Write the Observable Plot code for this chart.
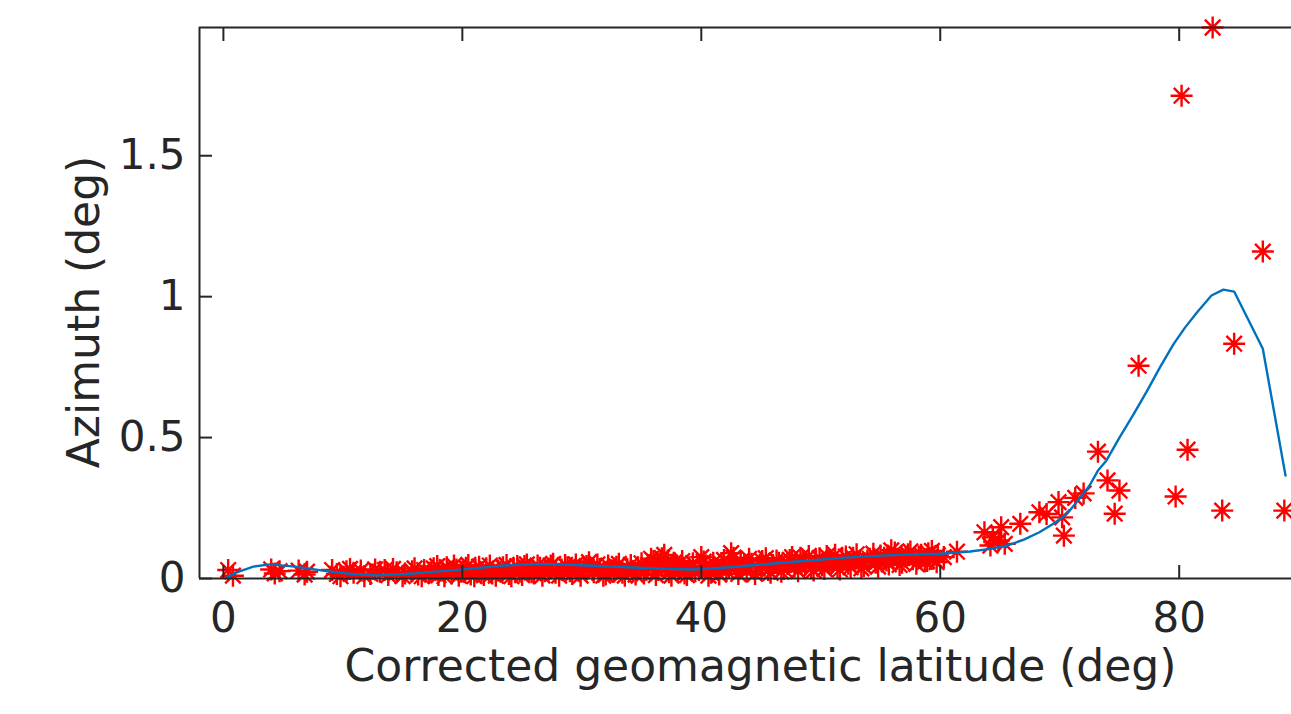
<!DOCTYPE html>
<html><head><meta charset="utf-8">
<script src="https://cdn.jsdelivr.net/npm/d3@7"></script>
<script src="https://cdn.jsdelivr.net/npm/@observablehq/plot@0.6"></script>
<style>html,body{margin:0;padding:0;background:#fff;} svg{display:block}</style>
</head><body><div id="chart"></div>
<script>
// Measured points: corrected geomagnetic latitude (deg) and azimuth (deg)
const latitude = [0.4,0.8,4.0,4.3,4.7,6.3,6.8,7.0,
9.1,9.5,10.3,10.9,11.5,12.3,13.1,13.8,14.5,15.2,15.8,16.3,16.8,17.2,17.6,18.0,18.3,18.7,19.1,19.5,19.9,20.3,20.7,21.1,21.6,22.0,22.5,23.0,23.4,23.9,24.3,24.8,25.2,25.6,26.0,26.5,26.9,27.4,27.8,28.3,28.8,29.2,29.7,30.2,30.6,31.0,31.5,32.0,32.4,32.9,33.4,33.8,34.3,34.7,35.2,35.6,36.0,36.4,36.7,37.0,37.3,37.7,38.1,38.6,39.0,39.5,40.0,40.4,40.8,41.2,41.7,42.1,42.5,42.9,43.3,43.8,44.2,44.7,45.1,45.6,46.0,46.5,46.9,47.4,47.8,48.3,48.7,49.2,49.6,50.1,50.5,50.9,51.4,51.8,52.3,52.7,53.2,53.6,54.1,54.6,55.0,55.5,55.9,56.4,56.8,57.3,57.7,58.2,58.7,59.0,59.4,59.8,
61.4,63.7,64.2,64.4,64.9,65.1,65.4,66.7,68.3,68.9,69.9,70.2,70.35,71.3,72.0,73.2,74.0,74.6,75.0,76.6,79.7,80.2,80.7,82.8,83.6,84.6,87.0,88.8];
const azimuth = [0.030,0.010,0.032,0.018,0.026,0.028,0.014,0.024,
0.030,0.016,0.026,0.020,0.028,0.016,0.024,0.012,0.022,0.018,0.026,0.014,0.030,0.020,0.036,0.012,0.028,0.040,0.018,0.032,0.024,0.038,0.014,0.030,0.022,0.036,0.018,0.028,0.040,0.016,0.034,0.024,0.044,0.030,0.018,0.038,0.026,0.046,0.020,0.032,0.040,0.016,0.028,0.036,0.058,0.022,0.034,0.014,0.030,0.042,0.020,0.034,0.026,0.040,0.018,0.048,0.062,0.030,0.072,0.046,0.022,0.056,0.034,0.018,0.040,0.026,0.076,0.044,0.020,0.034,0.050,0.028,0.090,0.040,0.060,0.024,0.052,0.036,0.062,0.030,0.048,0.056,0.034,0.066,0.042,0.074,0.050,0.036,0.062,0.046,0.080,0.056,0.040,0.068,0.052,0.074,0.060,0.044,0.070,0.056,0.082,0.064,0.100,0.070,0.056,0.086,0.068,0.078,0.060,0.090,0.070,0.082,
0.095,0.164,0.117,0.146,0.135,0.182,0.123,0.194,0.235,0.229,0.271,0.217,0.152,0.286,0.302,0.450,0.348,0.230,0.312,0.755,0.291,1.713,0.457,1.955,0.241,0.833,1.160,0.241];
// More measured points in the dense low-latitude band
const latitudeBand = [9.8,10.6,11.8,12.7,13.5,14.2,15.0,16.0,16.6,
17.4,17.9,18.5,19.3,19.7,20.1,20.5,21.0,21.4,21.8,22.3,22.8,23.2,23.7,24.1,24.6,25.0,25.4,25.8,26.3,26.7,27.2,27.6,28.1,28.6,29.0,29.5,29.9,30.4,30.9,31.3,31.8,32.2,32.7,33.1,33.6,34.1,34.5,35.0,35.4,35.8,36.2,36.6,36.9,37.2,37.5,37.9,38.4,38.8,39.3,39.8,40.2,40.6,41.0,41.5,41.9,42.3,42.7,43.1,43.6,44.0,44.5,44.9,45.4,45.8,46.3,46.7,47.2,47.6,48.1,48.5,49.0,49.4,49.9,50.3,50.7,51.2,51.6,52.1,52.5,53.0,53.4,53.9,54.4,54.8,55.3,55.7,56.2,56.6,57.1,57.5,58.0,58.4,58.9,59.3,59.7,60.3];
const azimuthBand = [0.008,0.034,0.008,0.032,0.030,0.034,0.008,0.036,0.008,
0.022,0.044,0.008,0.046,0.010,0.026,0.048,0.008,0.042,0.012,0.046,0.010,0.024,0.048,0.008,0.044,0.012,0.050,0.022,0.046,0.010,0.034,0.052,0.010,0.048,0.026,0.050,0.010,0.044,0.030,0.050,0.010,0.046,0.024,0.052,0.010,0.048,0.014,0.054,0.030,0.070,0.012,0.058,0.084,0.064,0.010,0.048,0.062,0.012,0.054,0.030,0.060,0.010,0.056,0.014,0.066,0.040,0.074,0.016,0.050,0.070,0.016,0.048,0.072,0.020,0.064,0.024,0.052,0.076,0.026,0.060,0.080,0.028,0.072,0.034,0.062,0.084,0.032,0.078,0.040,0.086,0.036,0.064,0.088,0.042,0.074,0.050,0.092,0.048,0.076,0.096,0.052,0.084,0.062,0.098,0.058,0.076];
// Fitted curve
const fitLatitude = [0.15,1.0,2.5,3.9,6.0,8.5,10.6,12.8,16.0,20.6,23.5,26.5,30.0,33.8,37.0,39.3,42.4,46.0,49.1,52.0,55.5,58.0,60.0,62.5,64.2,65.6,67.0,68.3,69.5,70.6,71.6,72.5,73.2,73.9,75.0,76.2,77.3,78.4,79.5,80.5,81.5,82.7,83.7,84.6,87.0,88.9];
const fitAzimuth = [0.0,0.02,0.042,0.05,0.042,0.027,0.017,0.011,0.018,0.034,0.046,0.052,0.047,0.04,0.034,0.032,0.04,0.053,0.064,0.074,0.082,0.086,0.088,0.096,0.105,0.117,0.138,0.164,0.195,0.229,0.28,0.33,0.383,0.418,0.5,0.584,0.665,0.75,0.83,0.891,0.945,1.004,1.025,1.018,0.815,0.365];
const xTicks = [0, 20, 40, 60, 80];
const yTicks = [0, 0.5, 1, 1.5];
const xLabel = "Corrected geomagnetic latitude (deg)";
const yLabel = "Azimuth (deg)";
const xDomain = [-2, 89.4];

const points = latitude.map((x, i) => ({x, y: azimuth[i]}))
  .concat(latitudeBand.map((x, i) => ({x, y: azimuthBand[i]})));
const fit = fitLatitude.map((x, i) => ({x, y: fitAzimuth[i]}));
const yMax = d3.max(azimuth);
const axisColor = "#262626";
const tickFont = 42, labelFont = 44;

// MATLAB-style asterisk: a plus combined with a cross
const asterisk8 = {
  draw(context, size) {
    const r = Math.sqrt(size / Math.PI), d = r * Math.SQRT1_2;
    context.moveTo(0, -r); context.lineTo(0, r);
    context.moveTo(-r, 0); context.lineTo(r, 0);
    context.moveTo(-d, -d); context.lineTo(d, d);
    context.moveTo(-d, d); context.lineTo(d, -d);
  }
};

const chart = Plot.plot({
  width: 1291, height: 714,
  marginLeft: 199, marginRight: 0, marginTop: 27, marginBottom: 136,
  style: {fontFamily: "DejaVu Sans", background: "#fff", overflow: "visible", color: axisColor},
  x: {domain: xDomain},
  y: {domain: [0, yMax]},
  marks: [
    Plot.dot(points, {x: "x", y: "y", symbol: asterisk8, r: 11, stroke: "#FF0000", strokeWidth: 2.4}),
    Plot.line(fit, {x: "x", y: "y", stroke: "#0072BD", strokeWidth: 2.4}),
    Plot.ruleY([0], {stroke: axisColor, strokeWidth: 2}),
    Plot.ruleY([yMax], {stroke: axisColor, strokeWidth: 2}),
    Plot.ruleX([xDomain[0]], {stroke: axisColor, strokeWidth: 2}),
    Plot.axisX(xTicks, {anchor: "bottom", tickSize: -13, tickFormat: () => "", stroke: axisColor, strokeWidth: 2, label: null}),
    Plot.axisX(xTicks, {anchor: "top", tickSize: -13, tickFormat: () => "", stroke: axisColor, strokeWidth: 2, label: null}),
    Plot.axisX(xTicks, {anchor: "bottom", tickSize: 0, tickPadding: 24, fontSize: tickFont, fill: axisColor, label: null}),
    Plot.axisY(yTicks, {anchor: "left", tickSize: -13, tickFormat: () => "", stroke: axisColor, strokeWidth: 2, label: null}),
    Plot.axisY(yTicks, {anchor: "left", tickSize: 0, tickPadding: 14, fontSize: tickFont, fill: axisColor, tickFormat: d => String(d), label: null}),
    Plot.text([xLabel], {text: d => d, frameAnchor: "bottom", textAnchor: "middle", lineAnchor: "bottom", dx: 15, dy: 102, fontSize: labelFont, fill: axisColor}),
    Plot.text([yLabel], {text: d => d, frameAnchor: "left", textAnchor: "middle", lineAnchor: "bottom", rotate: -90, dx: -101, dy: 9, fontSize: labelFont, fill: axisColor})
  ]
});
document.getElementById("chart").appendChild(chart);
</script>
</body></html>
